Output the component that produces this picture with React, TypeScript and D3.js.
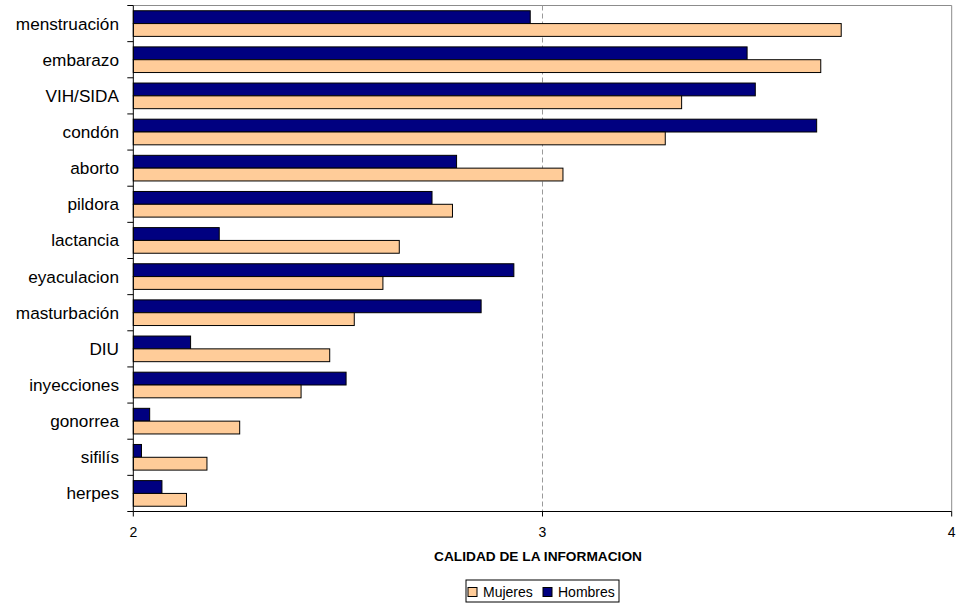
import React from "react";
import * as d3 from "d3";

// Topics and the mean quality-of-information score reported by each group
const categories = [
  "menstruación",
  "embarazo",
  "VIH/SIDA",
  "condón",
  "aborto",
  "pildora",
  "lactancia",
  "eyaculacion",
  "masturbación",
  "DIU",
  "inyecciones",
  "gonorrea",
  "sifilís",
  "herpes",
];
const hombres = [2.97, 3.5, 3.52, 3.67, 2.79, 2.73, 2.21, 2.93, 2.85, 2.14, 2.52, 2.04, 2.02, 2.07];
const mujeres = [3.73, 3.68, 3.34, 3.3, 3.05, 2.78, 2.65, 2.61, 2.54, 2.48, 2.41, 2.26, 2.18, 2.13];
const xTicks = [2, 3, 4];
const seriesNames = ["Hombres", "Mujeres"];
const legendOrder = ["Mujeres", "Hombres"];
const colors: Record<string, string> = { Hombres: "#000080", Mujeres: "#FFCC99" };
const axisTitle = "CALIDAD DE LA INFORMACION";

const W = 959;
const H = 606;
const FONT = "'Liberation Sans', Arial, sans-serif";

export default function App() {
  const x = d3.scaleLinear().domain([2, 4]).range([133.3, 951.7]);
  const y = d3.scaleBand<string>().domain(categories).range([5.5, 511.5]).padding(0);
  const sub = d3
    .scaleBand<string>()
    .domain(seriesNames)
    .range([0, y.step()])
    .paddingInner(0)
    .paddingOuter(0.41);

  const values: Record<string, number[]> = { Hombres: hombres, Mujeres: mujeres };
  const [x0, x1] = x.range();
  const [y0, y1] = y.range();

  return (
    <svg
      width={W}
      height={H}
      style={{ position: "absolute", left: 0, top: 0, background: "#fff" }}
      fontFamily={FONT}
    >
      {/* plot frame */}
      <line x1={x0} x2={x1} y1={y0} y2={y0} stroke="#8c8c8c" strokeWidth={1} />
      <line x1={x1} x2={x1} y1={y0} y2={y1} stroke="#8c8c8c" strokeWidth={1} />

      {/* dashed gridlines */}
      {xTicks
        .filter((t) => t !== 2 && t !== 4)
        .map((t) => (
          <line
            key={`g${t}`}
            x1={x(t)}
            x2={x(t)}
            y1={y0}
            y2={y1}
            stroke="#9a9a9a"
            strokeWidth={1}
            strokeDasharray="5,3"
          />
        ))}

      {/* bars */}
      {categories.map((c, i) => (
        <g key={c} transform={`translate(0,${y(c)})`}>
          {seriesNames.map((s) => (
            <rect
              key={s}
              x={x(2)}
              y={sub(s)}
              width={x(values[s][i]) - x(2)}
              height={sub.bandwidth()}
              fill={colors[s]}
              stroke="#000"
              strokeWidth={1}
            />
          ))}
        </g>
      ))}

      {/* y axis */}
      <line x1={x0} x2={x0} y1={y0} y2={y1} stroke="#000" strokeWidth={1} />
      {[...categories.map((c) => y(c) as number), y1].map((v, i) => (
        <line key={`yt${i}`} x1={x0 - 6} x2={x0} y1={v} y2={v} stroke="#000" strokeWidth={1} />
      ))}
      {categories.map((c) => (
        <text
          key={`yl${c}`}
          x={119}
          y={(y(c) as number) + y.bandwidth() / 2}
          dy="0.35em"
          textAnchor="end"
          fontSize={17.2}
          fill="#000"
        >
          {c}
        </text>
      ))}

      {/* x axis */}
      <line x1={x0} x2={x1} y1={y1} y2={y1} stroke="#000" strokeWidth={1} />
      {xTicks.map((t) => (
        <g key={`xt${t}`}>
          <line x1={x(t)} x2={x(t)} y1={y1} y2={y1 + 5} stroke="#000" strokeWidth={1} />
          <text x={x(t)} y={536.5} textAnchor="middle" fontSize={14} fill="#000">
            {t}
          </text>
        </g>
      ))}
      <text x={538} y={561} textAnchor="middle" fontSize={13.7} fontWeight="bold" fill="#000">
        {axisTitle}
      </text>

      {/* legend */}
      <rect x={466} y={580} width={153} height={22} fill="#fff" stroke="#000" strokeWidth={1} />
      {legendOrder.map((s, i) => {
        const lx = i === 0 ? 468 : 543;
        return (
          <g key={`lg${s}`}>
            <rect x={lx} y={587.5} width={9} height={9} fill={colors[s]} stroke="#000" strokeWidth={1} />
            <text x={lx + 15} y={596.5} fontSize={14} fill="#000">
              {s}
            </text>
          </g>
        );
      })}
    </svg>
  );
}
